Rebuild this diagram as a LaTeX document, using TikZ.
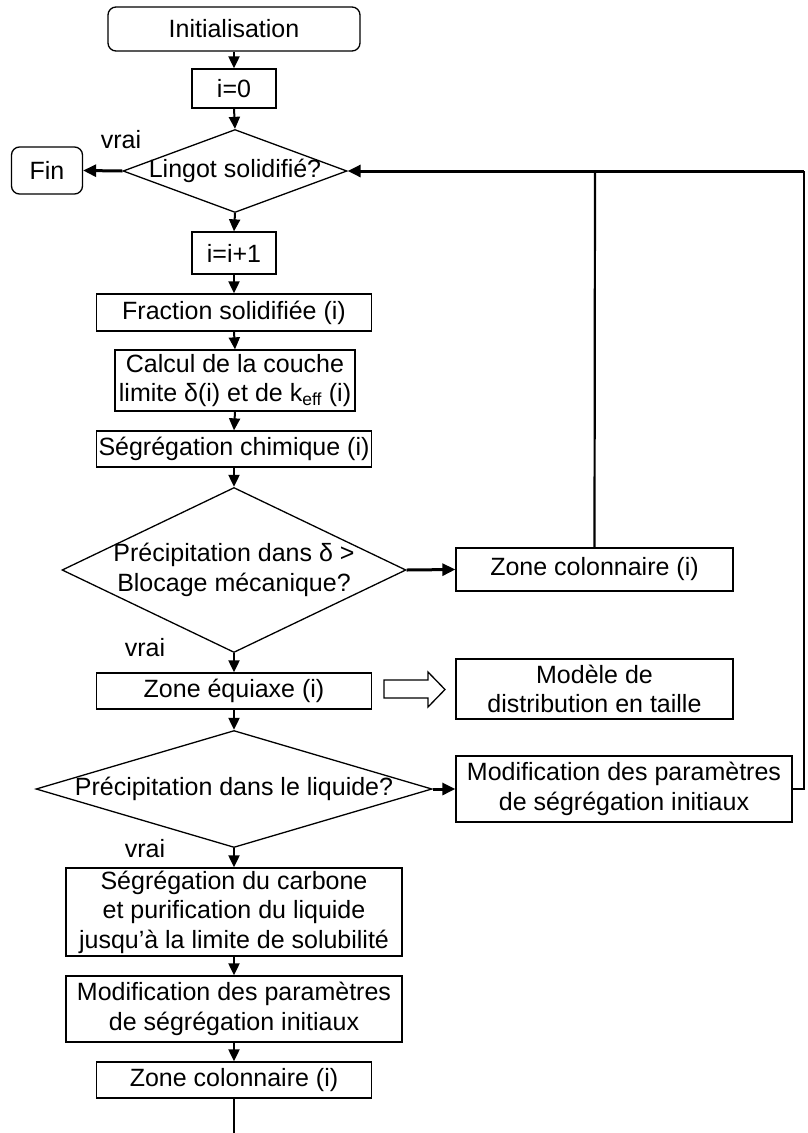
\documentclass[tikz,border=0pt]{standalone}
\usepackage{fontspec}
\setmainfont{Liberation Sans}
\usetikzlibrary{shapes.geometric,arrows.meta}
\begin{document}
\begin{tikzpicture}[x=1pt,y=-1pt,
  txt/.style={font=\fontsize{25}{29.5}\selectfont, align=center},
  box/.style={draw, line width=1.3pt, inner sep=0pt, txt},
  rbox/.style={box, rounded corners=8pt},
  dia/.style={draw, diamond, line width=1.3pt, inner sep=0pt},
  arr/.style={line width=2pt, -{Triangle[length=12pt,width=11pt]}},
  harr/.style={line width=3pt, -{Triangle[length=13pt,width=12pt]}},
  loopln/.style={line width=2.6pt},
  hollow/.style={draw, line width=1.3pt, fill=white}]
\useasboundingbox (0,0) rectangle (807,1133);

\node[rbox, minimum width=252pt, minimum height=44pt] (init) at (234,29) {Initialisation};
\node[box, minimum width=84pt, minimum height=39pt] (i0) at (234,88.5) {i=0};
\node[dia, minimum width=224pt, minimum height=83pt,
      label={[txt]center:Lingot solidifié?}] (d1) at (235,171) {};
\node[rbox, minimum width=71pt, minimum height=47pt] (fin) at (47,170.5) {Fin};
\node[txt] (v1) at (121,140) {vrai};
\node[box, minimum width=84pt, minimum height=42pt] (ii) at (234,253) {i=i+1};
\node[box, minimum width=275pt, minimum height=37pt] (frac) at (234,312.5) {Fraction solidifiée (i)};
\node[box, minimum width=240pt, minimum height=61pt] (calc) at (235,380.5) {Calcul de la couche\\limite δ(i) et de k\textsubscript{eff} (i)};
\node[box, minimum width=275pt, minimum height=36pt] (segchim) at (234,449) {Ségrégation chimique (i)};
\node[dia, minimum width=344pt, minimum height=165pt,
      label={[txt]center:{Précipitation dans δ >\\Blocage mécanique?}}] (d2) at (234,570) {};
\node[box, minimum width=277pt, minimum height=43pt] (zcol1) at (594.5,569.5) {Zone colonnaire (i)};
\node[txt] (v2) at (145,648) {vrai};
\node[box, minimum width=275pt, minimum height=36pt] (zeq) at (234,691) {Zone équiaxe (i)};
\node[box, minimum width=277pt, minimum height=60pt] (modele) at (594.5,689) {Modèle de\\distribution en taille};
\node[dia, minimum width=396pt, minimum height=117pt,
      label={[txt]center:Précipitation dans le liquide?}] (d3) at (234,789) {};
\node[box, minimum width=336pt, minimum height=66pt] (modif1) at (624,789) {Modification des paramètres\\de ségrégation initiaux};
\node[txt] (v3) at (145,849) {vrai};
\node[box, minimum width=336pt, minimum height=88pt] (segcarb) at (234,912) {Ségrégation du carbone\\et purification du liquide\\jusqu’à la limite de solubilité};
\node[box, minimum width=336pt, minimum height=66pt] (modif2) at (234,1009) {Modification des paramètres\\de ségrégation initiaux};
\node[box, minimum width=275pt, minimum height=36pt] (zcol2) at (234,1080) {Zone colonnaire (i)};

\coordinate (c1) at (804,789);
\coordinate (c2) at (804,171);
\coordinate (c3) at (595,171);
\coordinate (bot) at (234,1133);

\draw[arr] (init.south) -- (i0.north);
\draw[arr] (i0.south) -- (d1.north);
\draw[harr] (d1.west) -- (fin.east);
\draw[arr] (d1.south) -- (ii.north);
\draw[arr] (ii.south) -- (frac.north);
\draw[arr] (frac.south) -- (calc.north);
\draw[arr] (calc.south) -- (segchim.north);
\draw[arr] (segchim.south) -- (d2.north);
\draw[harr] (d2.east) -- (zcol1.west);
\draw[arr] (d2.south) -- (zeq.north);
\draw[arr] (zeq.south) -- (d3.north);
\draw[harr] (d3.east) -- (modif1.west);
\draw[arr] (d3.south) -- (segcarb.north);
\draw[arr] (segcarb.south) -- (modif2.north);
\draw[arr] (modif2.south) -- (zcol2.north);
\draw[line width=2pt] (zcol2.south) -- (bot);

\draw[loopln] (modif1.east) -- (c1) -- (c2);
\draw[harr] (c2) -- (d1.east);
\draw[line width=2.2pt] (zcol1.north) -- (c3);

\draw[hollow] (384,680) -- (428,680) -- (428,672) -- (445,689.5) -- (428,707) -- (428,698) -- (384,698) -- cycle;
\end{tikzpicture}
\end{document}
